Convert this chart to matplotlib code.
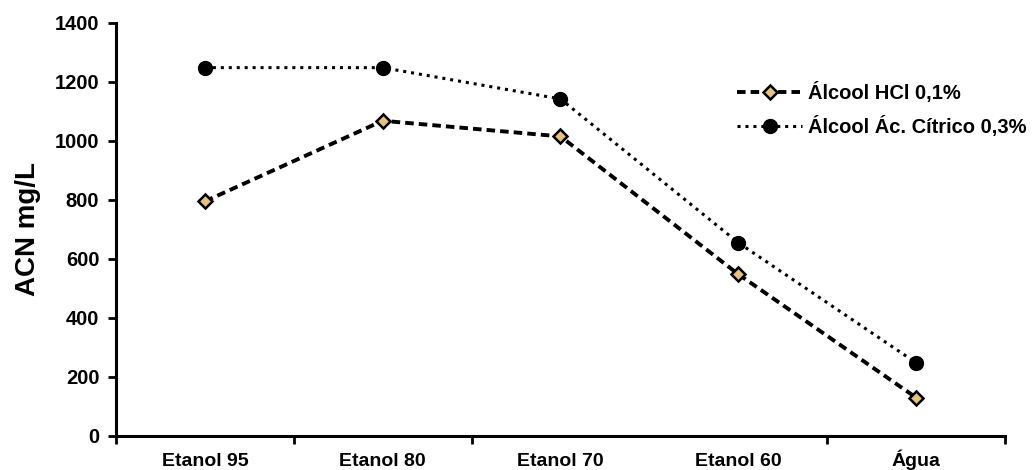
import matplotlib
matplotlib.use("Agg")
import matplotlib.pyplot as plt

categories = ["Etanol 95", "Etanol 80", "Etanol 70", "Etanol 60", "Água"]
hcl_values = [795, 1068, 1015, 548, 130]
citrico_values = [1248, 1248, 1142, 655, 248]
series_labels = ["Álcool HCl 0,1%", "Álcool Ác. Cítrico 0,3%"]
y_ticks = [0, 200, 400, 600, 800, 1000, 1200, 1400]

plt.rcParams["font.family"] = ["Liberation Sans", "DejaVu Sans"]
plt.rcParams["font.weight"] = "bold"

fig = plt.figure(figsize=(10.36, 4.70), dpi=100)
ax = fig.add_axes([0.112, 0.0725, 0.858, 0.879])

x = list(range(len(categories)))
ax.plot(x, hcl_values, linestyle=(0, (2.2, 1.3)), color="black", linewidth=2.8,
        marker="D", markersize=7.5, markerfacecolor="#E6C27E",
        markeredgecolor="black", markeredgewidth=1.8, label=series_labels[0])
ax.plot(x, citrico_values, linestyle=(0, (1, 1.6)), color="black", linewidth=2.2,
        marker="o", markersize=10, markerfacecolor="black",
        markeredgecolor="black", label=series_labels[1])

ax.set_xlim(-0.5, len(categories) - 0.5)
ax.set_ylim(0, 1400)
ax.set_yticks(y_ticks)
ax.set_yticklabels([str(v) for v in y_ticks], fontsize=14.5, fontweight="bold")
ax.set_ylabel("ACN mg/L", fontsize=20, fontweight="bold", labelpad=10)

ax.set_xticks(x)
ax.set_xticklabels(categories, fontsize=14, fontweight="bold")
for lbl in ax.get_xticklabels():
    lbl.set_verticalalignment("baseline")
ax.tick_params(axis="x", which="major", length=0, pad=22)
# boundary ticks between categories
ax.set_xticks([-0.5, 0.5, 1.5, 3.5, 4.5], minor=True)
ax.tick_params(axis="x", which="minor", length=6, width=2, direction="out")
ax.tick_params(axis="y", length=6, width=2, direction="out", pad=6)

for side in ("top", "right"):
    ax.spines[side].set_visible(False)
for side in ("left", "bottom"):
    ax.spines[side].set_linewidth(2.2)

leg = ax.legend(loc="upper left", bbox_to_anchor=(0.69, 0.875), frameon=False,
                prop={"size": 14.5, "weight": "bold"}, handlelength=3.2,
                handletextpad=0.3, labelspacing=0.6, borderaxespad=0)

fig.savefig("out.png", dpi=100, facecolor="white")
